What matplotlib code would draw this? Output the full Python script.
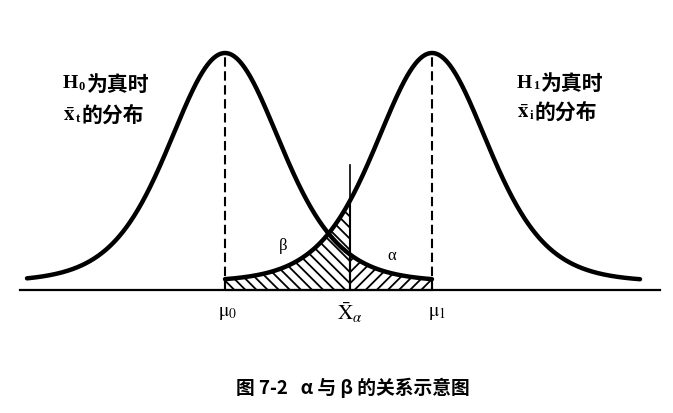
import numpy as np
import matplotlib
matplotlib.use("Agg")
import matplotlib.pyplot as plt

plt.rcParams['mathtext.fontset'] = 'stix'
plt.rcParams['hatch.linewidth'] = 1.3

# ---- schematic parameters (drawing units: x ~ pixels, y = height above axis) ----
mu0 = 225.0          # mean under H0
mu1 = 432.0          # mean under H1
x_alpha = 350.0      # critical value
scale0 = 57.0        # spread of H0 curve
scale1 = 57.0        # spread of H1 curve
dof = 8.0            # tail heaviness of the drawn curves
peak_height = 229.0
base_height = 8.0
h0_range = [27.0, mu1]     # drawn extent of H0 curve
h1_range = [mu0, 640.0]    # drawn extent of H1 curve
axis_range = [20.0, 660.0]
crit_top = 125.0

h_letters = ["H", "H"]
h_subs = ["0", "1"]
x_subs = ["t", "i"]
cn_true = "为真时"
cn_dist = "的分布"
tick_labels = ["$\\mathrm{μ}_0$", "$\\bar{\\mathrm{X}}_\\alpha$", "$\\mathrm{μ}_1$"]
caption = "图 7-2   α 与 β 的关系示意图"


def curve(x, mu, s):
    return base_height + peak_height * (1 + ((x - mu) / s) ** 2 / dof) ** (-(dof + 1) / 2)


fig = plt.figure(figsize=(6.73, 4.13), dpi=100)
ax = fig.add_axes([0, 0, 1, 1])
ax.set_xlim(0, 673)
ax.set_ylim(-123, 290)
ax.axis('off')

x0 = np.linspace(h0_range[0], h0_range[1], 600)
x1 = np.linspace(h1_range[0], h1_range[1], 600)

# hatched regions
xb = np.linspace(mu0, x_alpha, 300)
ax.fill_between(xb, 0, curve(xb, mu1, scale1), facecolor='none', edgecolor='black',
                hatch='\\\\\\', linewidth=1.5)
xa = np.linspace(x_alpha, mu1, 300)
ax.fill_between(xa, 0, curve(xa, mu0, scale0), facecolor='none', edgecolor='black',
                hatch='///', linewidth=1.5)

# curves
ax.plot(x0, curve(x0, mu0, scale0), color='black', lw=3.2, solid_capstyle='round')
ax.plot(x1, curve(x1, mu1, scale1), color='black', lw=3.2, solid_capstyle='round')

# axis
ax.plot(axis_range, [0, 0], color='black', lw=1.6)

# dashed means
ax.plot([mu0, mu0], [0, curve(mu0, mu0, scale0)], color='black', lw=1.5,
        dashes=(4.5, 2.2))
ax.plot([mu1, mu1], [0, curve(mu1, mu1, scale1)], color='black', lw=1.5,
        dashes=(4.5, 2.2))

# critical value line
ax.plot([x_alpha, x_alpha], [0, crit_top], color='black', lw=1.2)

serif = 'Liberation Serif'
cjk = ['Noto Sans CJK SC', 'DejaVu Sans']
renderer = fig.canvas.get_renderer()


def chain(x, y, pieces):
    """pieces: list of (text, dy, kwargs); each placed right after the previous."""
    for txt, dy, gap, kw in pieces:
        t = ax.text(x, 290 - y - dy, txt, ha='left', va='center', **kw)
        bb = t.get_window_extent(renderer=renderer)
        x = bb.x1 + gap


big_serif = dict(fontsize=14, fontweight='bold', family=serif)
small_serif = dict(fontsize=9, fontweight='bold', family=serif)
big_cjk = dict(fontsize=15, fontweight='bold', family=cjk)

for i, (xs, y1, y2) in enumerate([(63, 84, 115), (517, 83, 112)]):
    chain(xs, y1, [(h_letters[i], 0, 0.5, big_serif),
                   (h_subs[i], 3, 1.5, small_serif),
                   (cn_true, 0, 0, big_cjk)])
    chain(xs, y2, [("$\\bar{\\mathbf{x}}$", 0, 0.5, dict(fontsize=15)),
                   (x_subs[i], 4, 1.5, small_serif),
                   (cn_dist, 0, 0, big_cjk)])

ax.text(283, 290 - 246, 'β', fontsize=12, family=serif, ha='center', va='center')
ax.text(392, 290 - 256, 'α', fontsize=12, family=serif, ha='center', va='center')

ax.text(228, 290 - 313, tick_labels[0], fontsize=14, ha='center', va='center')
ax.text(350, 290 - 313, tick_labels[1], fontsize=15, ha='center', va='center')
ax.text(437, 290 - 313, tick_labels[2], fontsize=14, ha='center', va='center')

ax.text(353, 290 - 388, caption, fontsize=13.5, fontweight='bold', family=cjk,
        ha='center', va='center')

fig.savefig('out.png', dpi=100)
